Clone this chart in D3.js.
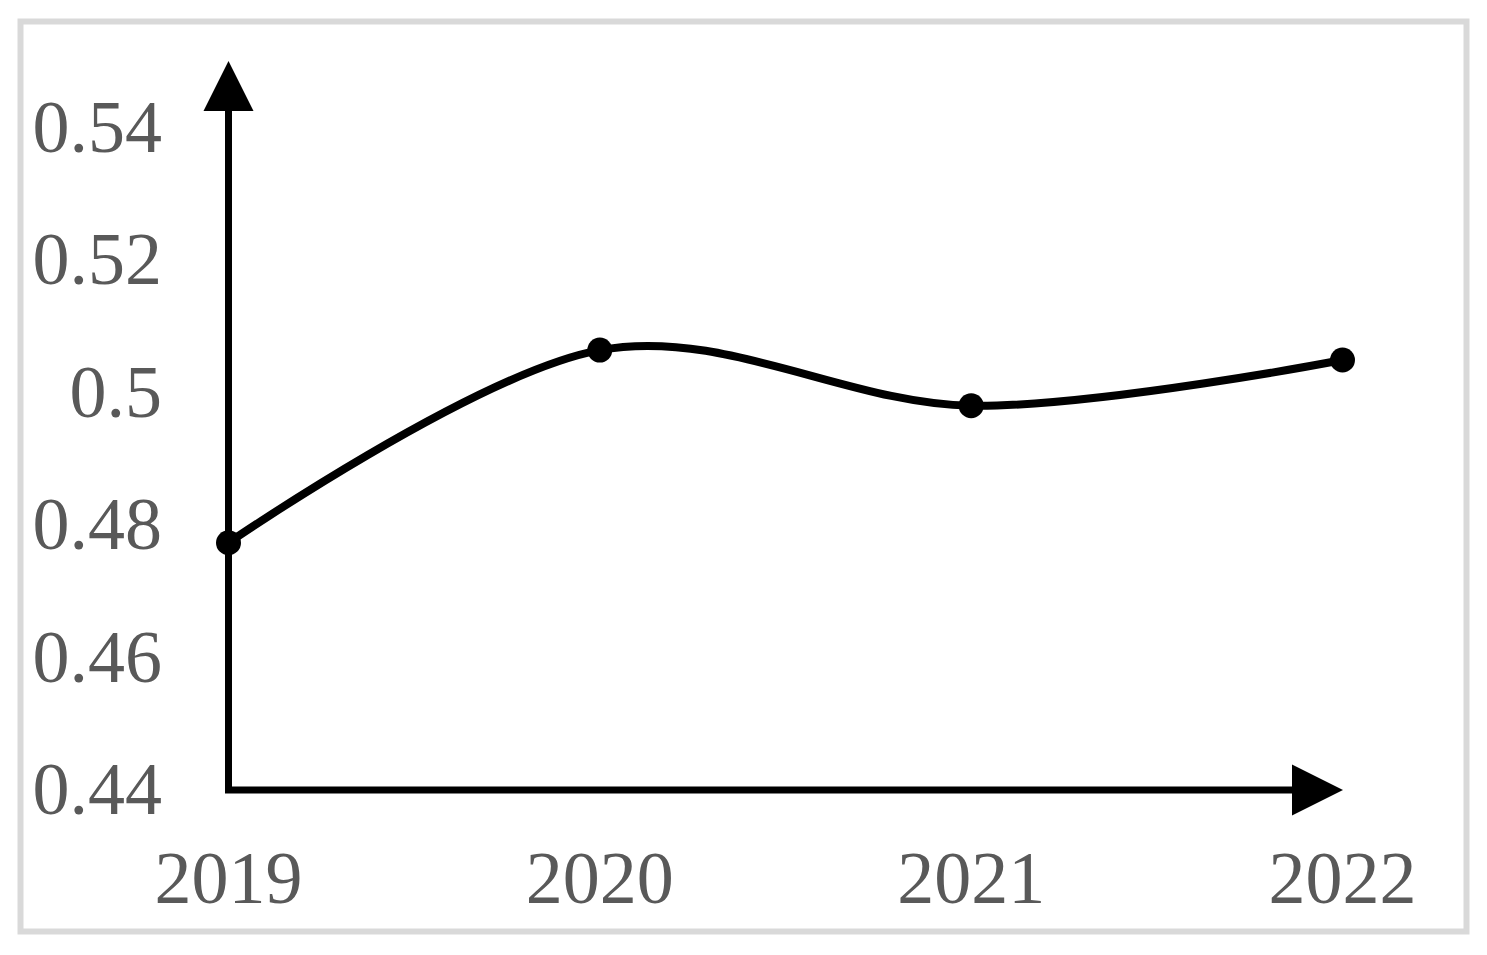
<!DOCTYPE html>
<html>
<head>
<meta charset="utf-8">
<script src="https://cdn.jsdelivr.net/npm/d3@7"></script>
<style>
  html, body { margin: 0; padding: 0; background: #fff; }
  svg { display: block; }
</style>
</head>
<body>
<svg id="chart" width="1487" height="955"></svg>
<script>
const years = ["2019", "2020", "2021", "2022"];
const values = [0.4772, 0.5063, 0.4979, 0.5048];
const yTicks = [0.44, 0.46, 0.48, 0.5, 0.52, 0.54];
const yTickLabels = ["0.44", "0.46", "0.48", "0.5", "0.52", "0.54"];

const svg = d3.select("#chart");
const W = 1487, H = 955;
svg.append("rect").attr("x", 0).attr("y", 0).attr("width", W).attr("height", H).attr("fill", "#fff");

// outer frame
svg.append("rect")
  .attr("x", 20.5).attr("y", 21.5)
  .attr("width", 1446).attr("height", 910)
  .attr("fill", "none").attr("stroke", "#d9d9d9").attr("stroke-width", 6);

const x = d3.scalePoint().domain(years).range([228.5, 1342.5]);
const y = d3.scaleLinear().domain([0.44, 0.54]).range([789, 127]);

const textColor = "#595959";
const font = "'Liberation Serif', 'Times New Roman', serif";

// y tick labels
svg.append("g").selectAll("text")
  .data(yTicks)
  .join("text")
  .attr("x", 162)
  .attr("y", d => y(d) + 25)
  .attr("text-anchor", "end")
  .attr("font-family", font)
  .attr("font-size", 74)
  .attr("fill", textColor)
  .text((d, i) => yTickLabels[i]);

// x tick labels
svg.append("g").selectAll("text")
  .data(years)
  .join("text")
  .attr("x", d => x(d))
  .attr("y", 903)
  .attr("text-anchor", "middle")
  .attr("font-family", font)
  .attr("font-size", 74)
  .attr("fill", textColor)
  .text(d => d);

// axes
const y0 = y(0.44) + 1;
const x0 = x(years[0]);
svg.append("line")
  .attr("x1", x0).attr("y1", y0 + 3)
  .attr("x2", x0).attr("y2", 105)
  .attr("stroke", "#000").attr("stroke-width", 7);
svg.append("path")
  .attr("d", `M${x0 - 25},111 L${x0},61 L${x0 + 25},111 Z`)
  .attr("fill", "#000");

svg.append("line")
  .attr("x1", x0 - 3.5).attr("y1", y0)
  .attr("x2", 1298).attr("y2", y0)
  .attr("stroke", "#000").attr("stroke-width", 7);
svg.append("path")
  .attr("d", `M1292,${y0 - 25.5} L1343,${y0} L1292,${y0 + 25.5} Z`)
  .attr("fill", "#000");

// smoothed line
const line = d3.line()
  .x((d, i) => x(years[i]))
  .y(d => y(d))
  .curve(d3.curveCardinal.tension(0));

svg.append("path")
  .datum(values)
  .attr("d", line)
  .attr("fill", "none")
  .attr("stroke", "#000")
  .attr("stroke-width", 8)
  .attr("stroke-linecap", "round");

svg.append("g").selectAll("circle")
  .data(values)
  .join("circle")
  .attr("cx", (d, i) => x(years[i]))
  .attr("cy", d => y(d))
  .attr("r", 12.5)
  .attr("fill", "#000");
</script>
</body>
</html>
